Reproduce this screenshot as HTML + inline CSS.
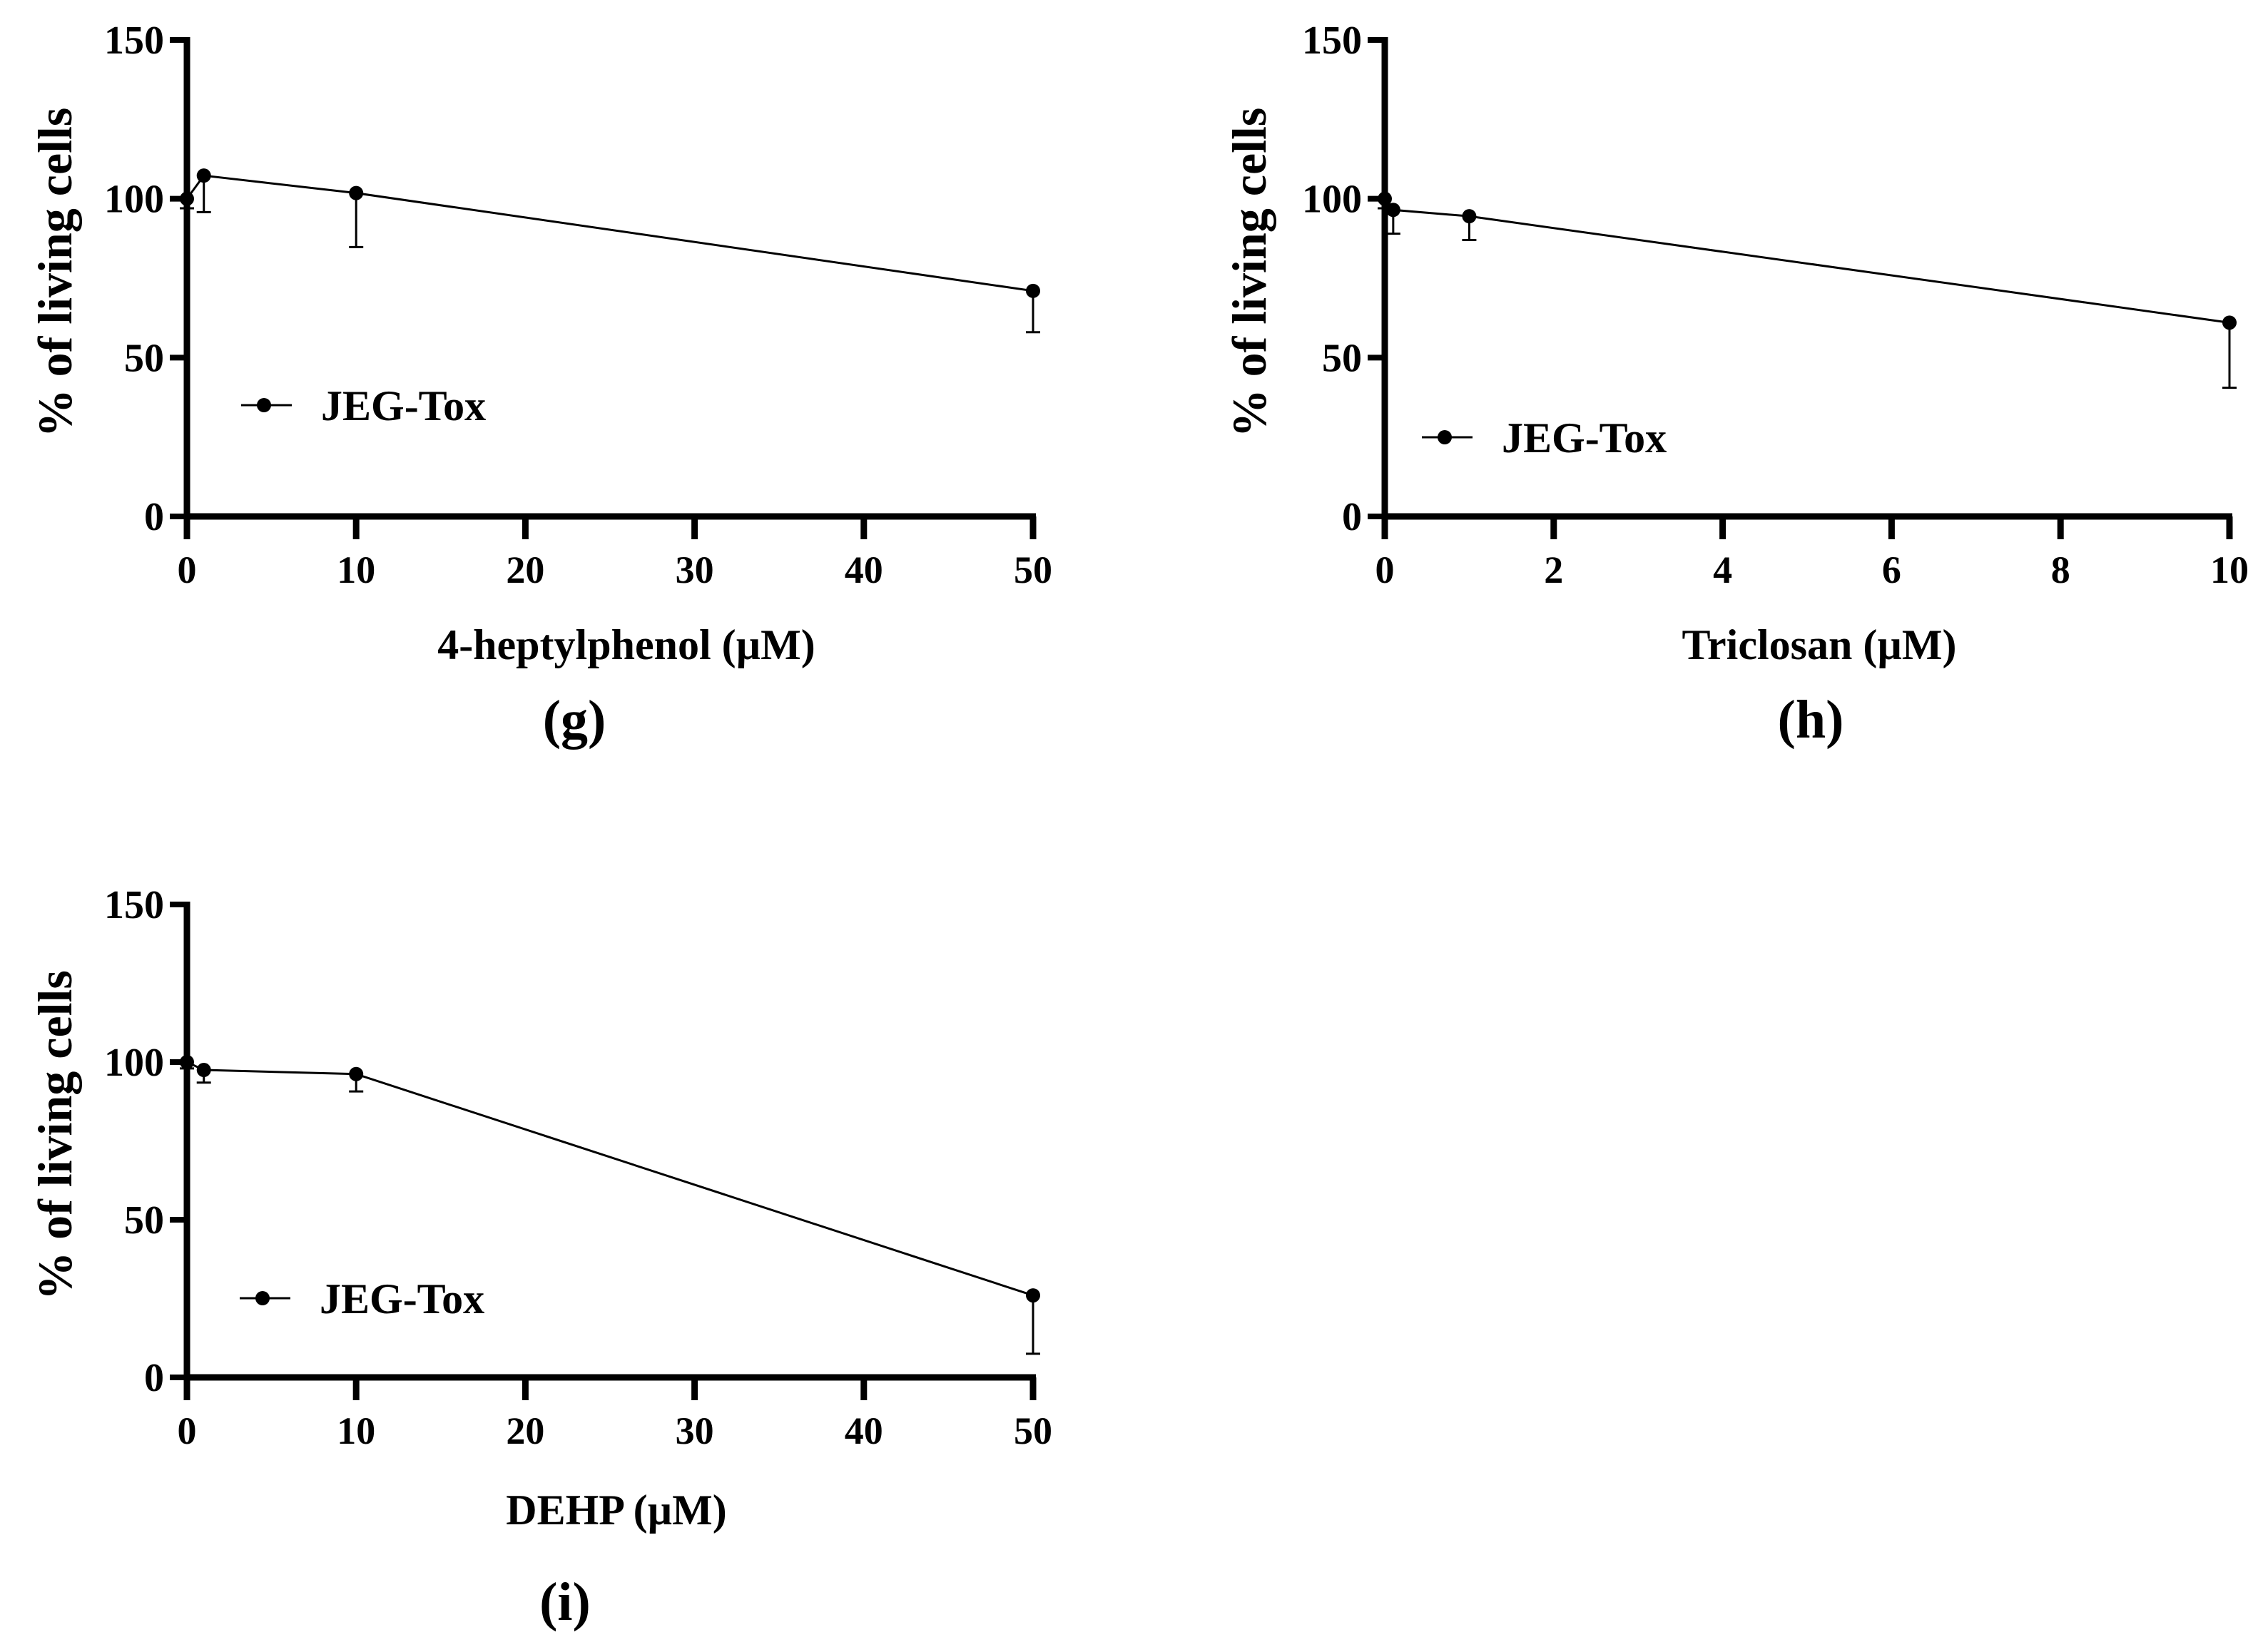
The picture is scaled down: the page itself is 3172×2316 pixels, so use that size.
<!DOCTYPE html>
<html><head><meta charset="utf-8"><style>
html,body{margin:0;padding:0;background:#fff;}
svg{display:block;font-family:"Liberation Serif",serif;font-weight:bold;}
</style></head><body>
<svg id="fig" width="3172" height="2316" viewBox="0 0 3172 2316" xmlns="http://www.w3.org/2000/svg"></svg>
<script>
const gX = [0, 1, 10, 50];
const gY = [100, 107.3, 101.8, 71];
const gErr = [3, 11.5, 17, 13];
const hX = [0, 0.1, 1, 10];
const hY = [100, 96.5, 94.5, 61];
const hErr = [3, 7.5, 7.5, 20.5];
const iX = [0, 1, 10, 50];
const iY = [100, 97.5, 96.2, 26];
const iErr = [2, 4, 5.5, 18.5];
const yTicks = [0, 50, 100, 150];
const xTicks50 = [0, 10, 20, 30, 40, 50];
const xTicks10 = [0, 2, 4, 6, 8, 10];

const NS = "http://www.w3.org/2000/svg";
const svg = document.getElementById('fig');
function mk(tag, attrs, parent, text){
  const e = document.createElementNS(NS, tag);
  for (const k in attrs) e.setAttribute(k, attrs[k]);
  if (text !== undefined) e.textContent = text;
  (parent || svg).appendChild(e);
  return e;
}

function panel(cfg){
  const g = mk('g', {});
  
  
  const sx = v => cfg.x0 + (v - cfg.xmin) / (cfg.xmax - cfg.xmin) * (cfg.x1 - cfg.x0);
  const sy = v => cfg.y0 - v / 150 * (cfg.y0 - cfg.y150);
  const ya = mk('line', {x1: cfg.x0, y1: cfg.y150 - 4, x2: cfg.x0, y2: cfg.y0 + 4, stroke: '#000', 'stroke-width': 9}, g);
  
  
  const xa = mk('line', {x1: cfg.x0 - 4, y1: cfg.y0, x2: cfg.x1 + 4, y2: cfg.y0, stroke: '#000', 'stroke-width': 9}, g);
  
  
  yTicks.forEach(t => {
    const y = sy(t);
    mk('line', {x1: cfg.x0 - 24, y1: y, x2: cfg.x0, y2: y, stroke: '#000', 'stroke-width': 8}, g);
    const tl = mk('text', {x: cfg.x0 - 32, y: y + 19, 'text-anchor': 'end', 'font-size': 56}, g, String(t));
    
    
  });
  cfg.xticks.forEach(t => {
    const x = sx(t);
    mk('line', {x1: x, y1: cfg.y0, x2: x, y2: cfg.y0 + 32, stroke: '#000', 'stroke-width': 9}, g);
    const tl = mk('text', {x: x, y: cfg.y0 + 93, 'text-anchor': 'middle', 'font-size': 54}, g, String(t));
    
    
  });
  const yt = mk('text', {x: 0, y: 0, 'text-anchor': 'middle', 'font-size': 68, transform: `translate(${cfg.ytx},${(cfg.y0 + cfg.y150) / 2 - 8}) rotate(-90)`}, g, '% of living cells');
  
  
  const xt = mk('text', {x: cfg.xtx, y: cfg.y0 + 200 + cfg.xto, 'text-anchor': 'middle', 'font-size': 60}, g, cfg.xtitle);
  
  
  const pl = mk('text', {x: cfg.plx, y: cfg.y0 + 310 + cfg.plo, 'text-anchor': 'middle', 'font-size': 76}, g, cfg.label);
  
  
  const pts = cfg.xs.map((v, i) => sx(v) + ',' + sy(cfg.ys[i])).join(' ');
  const ln = mk('polyline', {points: pts, fill: 'none', stroke: '#000', 'stroke-width': 3}, g);
  
  
  cfg.xs.forEach((v, i) => {
    const x = sx(v), y = sy(cfg.ys[i]), ye = sy(cfg.ys[i] - cfg.err[i]);
    const eb = mk('path', {d: `M${x},${y}V${ye}M${x - 10},${ye}H${x + 10}`, stroke: '#000', 'stroke-width': 3, fill: 'none'}, g);
    
    
    const c = mk('circle', {cx: x, cy: y, r: 10, fill: '#000'}, g);
    
    
  });
  const lg = mk('g', {}, g);
  
  
  mk('line', {x1: cfg.lgx, y1: cfg.lgy, x2: cfg.lgx + 71, y2: cfg.lgy, stroke: '#000', 'stroke-width': 3}, lg);
  mk('circle', {cx: cfg.lgx + 32, cy: cfg.lgy, r: 10, fill: '#000'}, lg);
  mk('text', {x: cfg.lgx + 112, y: cfg.lgy + 21, 'font-size': 60}, lg, 'JEG-Tox');
}

panel({id:'g', x0:262, x1:1448, y0:724, y150:56, xmin:0, xmax:50, xticks:xTicks50, xs:gX, ys:gY, err:gErr,
  ytx:100, xtx:878, xto:0, xtitle:'4-heptylphenol (\u00b5M)', plx:805, plo:0, label:'(g)', lgx:338, lgy:568});
panel({id:'h', x0:1941, x1:3125, y0:724, y150:56, xmin:0, xmax:10, xticks:xTicks10, xs:hX, ys:hY, err:hErr,
  ytx:1774, xtx:2550, xto:0, xtitle:'Triclosan (\u00b5M)', plx:2538, plo:0, label:'(h)', lgx:1993, lgy:613});
panel({id:'i', x0:262, x1:1448, y0:1931, y150:1268, xmin:0, xmax:50, xticks:xTicks50, xs:iX, ys:iY, err:iErr,
  ytx:100, xtx:864, xto:6, xtitle:'DEHP (\u00b5M)', plx:792, plo:30, label:'(i)', lgx:336, lgy:1820});
</script>
</body></html>
